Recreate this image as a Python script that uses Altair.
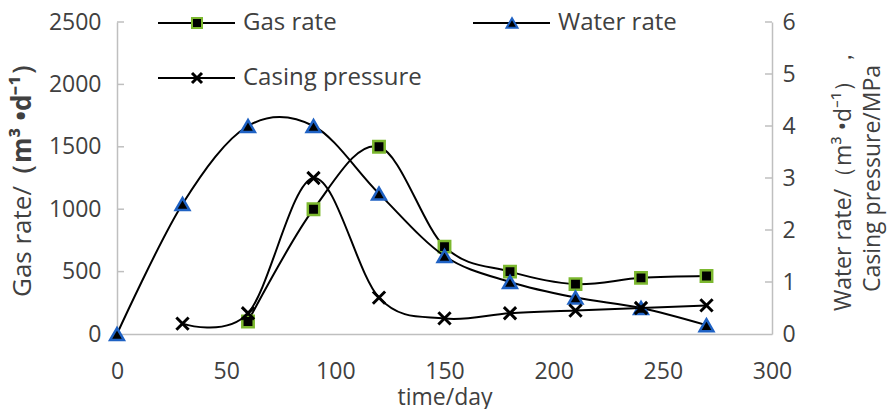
import altair as alt
import pandas as pd

# ---- data ---------------------------------------------------------------
gas_days = [60, 90, 120, 150, 180, 210, 240, 270]
gas_rate = [100, 1000, 1500, 700, 500, 400, 450, 465]

water_days = [0, 30, 60, 90, 120, 150, 180, 210, 240, 270]
water_rate = [0.0, 2.5, 4.0, 4.0, 2.7, 1.5, 1.0, 0.7, 0.5, 0.17]

casing_days = [30, 60, 90, 120, 150, 180, 210, 240, 270]
casing_pressure = [0.2, 0.4, 3.0, 0.7, 0.3, 0.4, 0.45, 0.5, 0.55]

x_ticks = [0, 50, 100, 150, 200, 250, 300]
left_ticks = [0, 500, 1000, 1500, 2000, 2500]
right_ticks = [0, 1, 2, 3, 4, 5, 6]

# ---- style --------------------------------------------------------------
FONT = "Open Sans"
TXT = "#404040"
AXIS = "#bfbfbf"
GREEN = "#7cb82f"
BLUE = "#1f62c4"
W, H = 655, 312
FS = 23

gas_df = pd.DataFrame({"day": gas_days, "value": gas_rate})
water_df = pd.DataFrame({"day": water_days, "value": water_rate})
casing_df = pd.DataFrame({"day": casing_days, "value": casing_pressure})
lt_df = pd.DataFrame({"value": left_ticks[1:]})
rt_df = pd.DataFrame({"value": right_ticks[1:]})
one = pd.DataFrame({"k": [0]})

x_axis = alt.Axis(
    values=x_ticks, format="d", title="time/day", grid=False, ticks=False,
    domainColor=AXIS, domainWidth=1.5, labelPadding=26, labelFlush=False,
    labelFont=FONT, labelFontSize=FS, labelColor=TXT,
    titleFont=FONT, titleFontSize=FS, titleColor=TXT,
    titleFontWeight="normal", titleY=63, titleBaseline="middle",
)
left_axis = alt.Axis(
    values=left_ticks, format="d", title="", grid=False, ticks=False,
    domainColor=AXIS, domainWidth=1.5, labelPadding=16, labelFlush=False,
    labelFont=FONT, labelFontSize=FS, labelColor=TXT,
)
right_axis = alt.Axis(
    orient="right", values=right_ticks, format="d", grid=False, ticks=False,
    domainColor=AXIS, domainWidth=1.5, labelPadding=10, labelFlush=False,
    labelFont=FONT, labelFontSize=FS, labelColor=TXT,
    title=["Water rate/（m³ •d⁻¹），", "Casing pressure/MPa"],
    titleAngle=270, titleFont=FONT, titleFontSize=FS, titleColor=TXT,
    titleFontWeight="normal", titlePadding=31, titleLineHeight=29,
)

x_scale = alt.Scale(domain=[0, 300], nice=False)
left_scale = alt.Scale(domain=[0, 2500], nice=False)
right_scale = alt.Scale(domain=[0, 6], nice=False)

X = alt.X("day:Q", scale=x_scale, axis=x_axis)
YL = alt.Y("value:Q", scale=left_scale, axis=left_axis)
YR = alt.Y("value:Q", scale=right_scale, axis=right_axis)

MARK_LINE = dict(interpolate="cardinal", color="black", strokeWidth=2)
XPATH = "M-1,-1L1,1M-1,1L1,-1"

# Gas rate on the left axis
gas_line = alt.Chart(gas_df).mark_line(**MARK_LINE).encode(x=X, y=YL)
gas_pts = alt.Chart(gas_df).mark_point(
    shape="square", size=130, filled=True, color="black",
    stroke=GREEN, strokeWidth=2.5, opacity=1,
).encode(x=X, y=YL)
left_tick_marks = alt.Chart(lt_df).mark_rule(color=AXIS, strokeWidth=1.5).encode(
    y=YL, x=alt.value(0), x2=alt.value(7),
)
left = alt.layer(gas_line, gas_pts, left_tick_marks)

# Water rate and casing pressure on the right axis
water_line = alt.Chart(water_df).mark_line(**MARK_LINE).encode(x=X, y=YR)
water_pts = alt.Chart(water_df).mark_point(
    shape="triangle-up", size=190, filled=True, color="black",
    stroke=BLUE, strokeWidth=2.5, opacity=1,
).encode(x=X, y=YR)
casing_line = alt.Chart(casing_df).mark_line(**MARK_LINE).encode(x=X, y=YR)
casing_pts = alt.Chart(casing_df).mark_point(
    shape=XPATH, size=150, filled=False, color="black", strokeWidth=3, opacity=1,
).encode(x=X, y=YR)
right_tick_marks = alt.Chart(rt_df).mark_rule(color=AXIS, strokeWidth=1.5).encode(
    y=YR, x=alt.value(W - 7), x2=alt.value(W),
)
right = alt.layer(water_line, water_pts, casing_line, casing_pts, right_tick_marks)

# Left axis title, unit part in bold
def vtext(txt, x, y, bold=False):
    return alt.Chart(one).mark_text(
        text=txt, angle=270, align="left", baseline="middle",
        font=FONT, fontSize=26, color=TXT,
        fontWeight="bold" if bold else "normal",
    ).encode(x=alt.value(x), y=alt.value(y))

title_a = vtext("Gas rate/", -94, 275)
title_b = vtext("（m³ •d⁻¹）", -94, 167, bold=True)

# Legend drawn inside the plot
def legend_item(x0, y0, label, point_kw):
    seg = alt.Chart(one).mark_rule(color="black", strokeWidth=2).encode(
        x=alt.value(x0), x2=alt.value(x0 + 77), y=alt.value(y0))
    sym = alt.Chart(one).mark_point(opacity=1, **point_kw).encode(
        x=alt.value(x0 + 39), y=alt.value(y0))
    txt = alt.Chart(one).mark_text(
        text=label, align="left", baseline="middle",
        font=FONT, fontSize=24, color=TXT,
    ).encode(x=alt.value(x0 + 85), y=alt.value(y0))
    return [seg, sym, txt]

legend = (
    legend_item(41, 1, "Gas rate", dict(shape="square", size=100, filled=True,
                                        color="black", stroke=GREEN, strokeWidth=2))
    + legend_item(356, 1, "Water rate", dict(shape="triangle-up", size=120, filled=True,
                                             color="black", stroke=BLUE, strokeWidth=2))
    + legend_item(41, 56, "Casing pressure", dict(shape=XPATH, size=100, filled=False,
                                                  color="black", strokeWidth=3))
)

chart = (
    alt.layer(left, right, title_a, title_b, *legend)
    .resolve_scale(y="independent")
    .properties(
        width=W, height=H,
        autosize=alt.AutoSizeParams(type="none"),
        padding={"left": 117, "top": 22, "right": 118, "bottom": 75},
        background="white",
    )
    .configure_view(stroke=None)
)

chart.save("out.html", embed_options={"renderer": "svg", "actions": False})
